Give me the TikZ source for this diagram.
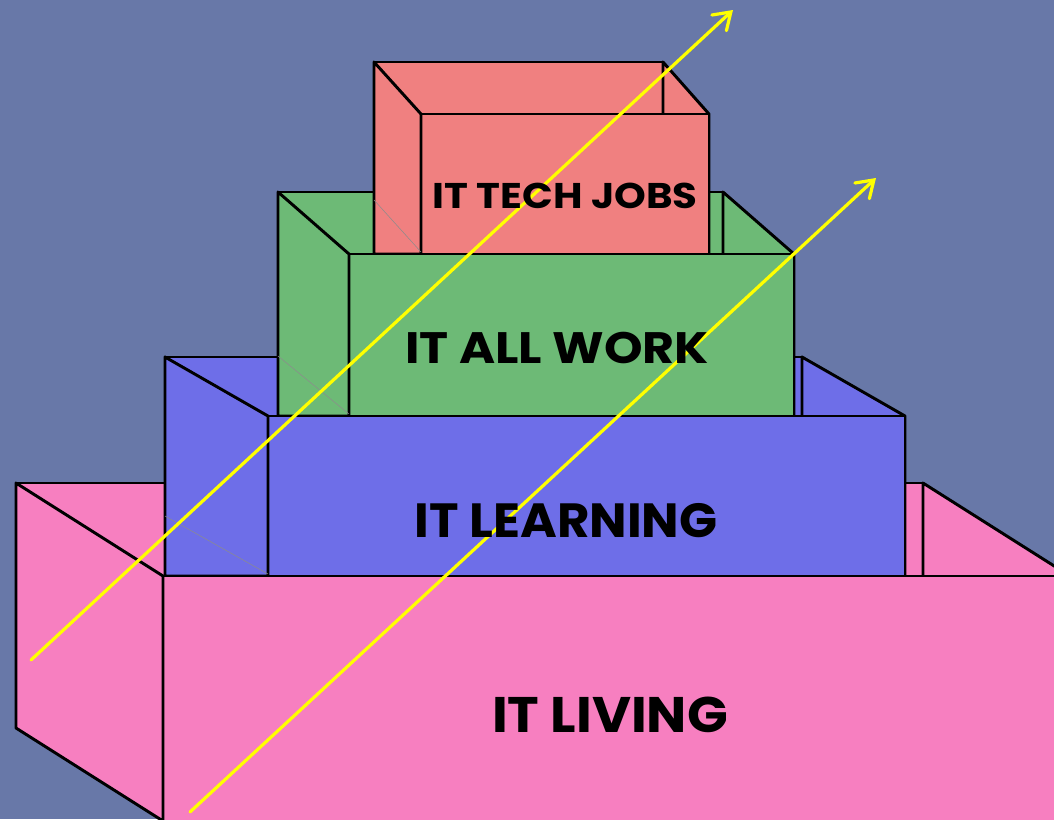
\documentclass[tikz,border=0pt]{standalone}
\usepackage{fontspec}
\usepackage{graphicx}
\setmainfont{Poppins}
\usetikzlibrary{arrows.meta}
\definecolor{bgcol}{HTML}{6878A8}
\definecolor{pinkbox}{HTML}{F77FC0}
\definecolor{bluebox}{HTML}{6E6EE8}
\definecolor{greenbox}{HTML}{6DBA76}
\definecolor{redbox}{HTML}{F08080}
\definecolor{arrowyellow}{HTML}{FFFF00}
\tikzset{
  face/.style={draw=black, line width=2.2pt, line join=round},
  hiddenedge/.style={draw=black!45, line width=0.4pt},
  growarrow/.style={draw=arrowyellow, line width=2.4pt, line cap=round,
    -{Straight Barb[length=12pt,width=16pt,line cap=round]}},
  label/.style={font=\bfseries, anchor=base, inner sep=0pt, text=black},
}
\begin{document}
\begin{tikzpicture}[x=0.75pt,y=-0.75pt]
\useasboundingbox (0,0) rectangle (1054,819);
\fill[bgcol] (0,0) rectangle (1054,819);
\begin{scope}
\clip (0,0) rectangle (1054,819);
% ---- pink box: back wall and right wall
\path[face, fill=pinkbox] (16,483) rectangle (923,728);
\path[face, fill=pinkbox] (923,483) -- (1070,576) -- (1070,821) -- (923,728) -- cycle;
% ---- blue box: back + right
\path[face, fill=bluebox] (165,357) rectangle (802,576);
\path[face, fill=bluebox] (802,357) -- (905,416) -- (905,576) -- (802,576) -- cycle;
% ---- green box: back + right
\path[face, fill=greenbox] (278,192) rectangle (723,416);
\path[face, fill=greenbox] (723,192) -- (794,254) -- (794,416) -- (723,416) -- cycle;
% ---- red box
\path[face, fill=redbox] (374,62) rectangle (663,254);
\path[face, fill=redbox] (663,62) -- (709,114) -- (709,254) -- (663,254) -- cycle;
\path[face, fill=redbox] (421,114) rectangle (709,254);
\path[face, fill=redbox] (374,62) -- (421,114) -- (421,254) -- (374,254) -- cycle;
\draw[hiddenedge] (374,200) -- (421,252);
% ---- green front + left
\path[face, fill=greenbox] (349,254) rectangle (794,416);
\path[face, fill=greenbox] (278,192) -- (349,254) -- (349,416) -- (278,416) -- cycle;
\draw[hiddenedge] (278,356) -- (349,414);
% ---- blue front + left
\path[face, fill=bluebox] (268,416) rectangle (905,576);
\path[face, fill=bluebox] (165,357) -- (268,416) -- (268,576) -- (165,576) -- cycle;
\draw[hiddenedge] (165,516) -- (268,574);
% ---- pink front + left
\path[face, fill=pinkbox] (163,576) rectangle (1070,821);
\path[face, fill=pinkbox] (16,483) -- (163,576) -- (163,821) -- (16,728) -- cycle;
\end{scope}
% ---- arrows
\coordinate (a1s) at (31,660);
\coordinate (a1e) at (733,10);
\coordinate (a2s) at (190,812);
\coordinate (a2e) at (876,178);
\draw[growarrow] (a1s) -- (a1e);
\draw[growarrow] (a2s) -- (a2e);
% ---- labels
\node[label, font=\bfseries\fontsize{26.8pt}{30pt}\selectfont] (jobs) at (565,208) {\scalebox{1.13}[1]{IT TECH JOBS}};
\node[label, font=\bfseries\fontsize{33pt}{36pt}\selectfont] (work) at (557,363) {\scalebox{1.115}[1]{IT ALL WORK}};
\node[label, font=\bfseries\fontsize{36pt}{40pt}\selectfont] (learn) at (566,537) {\scalebox{1.04}[1]{IT LEARNING}};
\node[label, font=\bfseries\fontsize{37.5pt}{40pt}\selectfont] (living) at (610,732) {\scalebox{1.07}[1]{IT LIVING}};
\end{tikzpicture}
\end{document}
